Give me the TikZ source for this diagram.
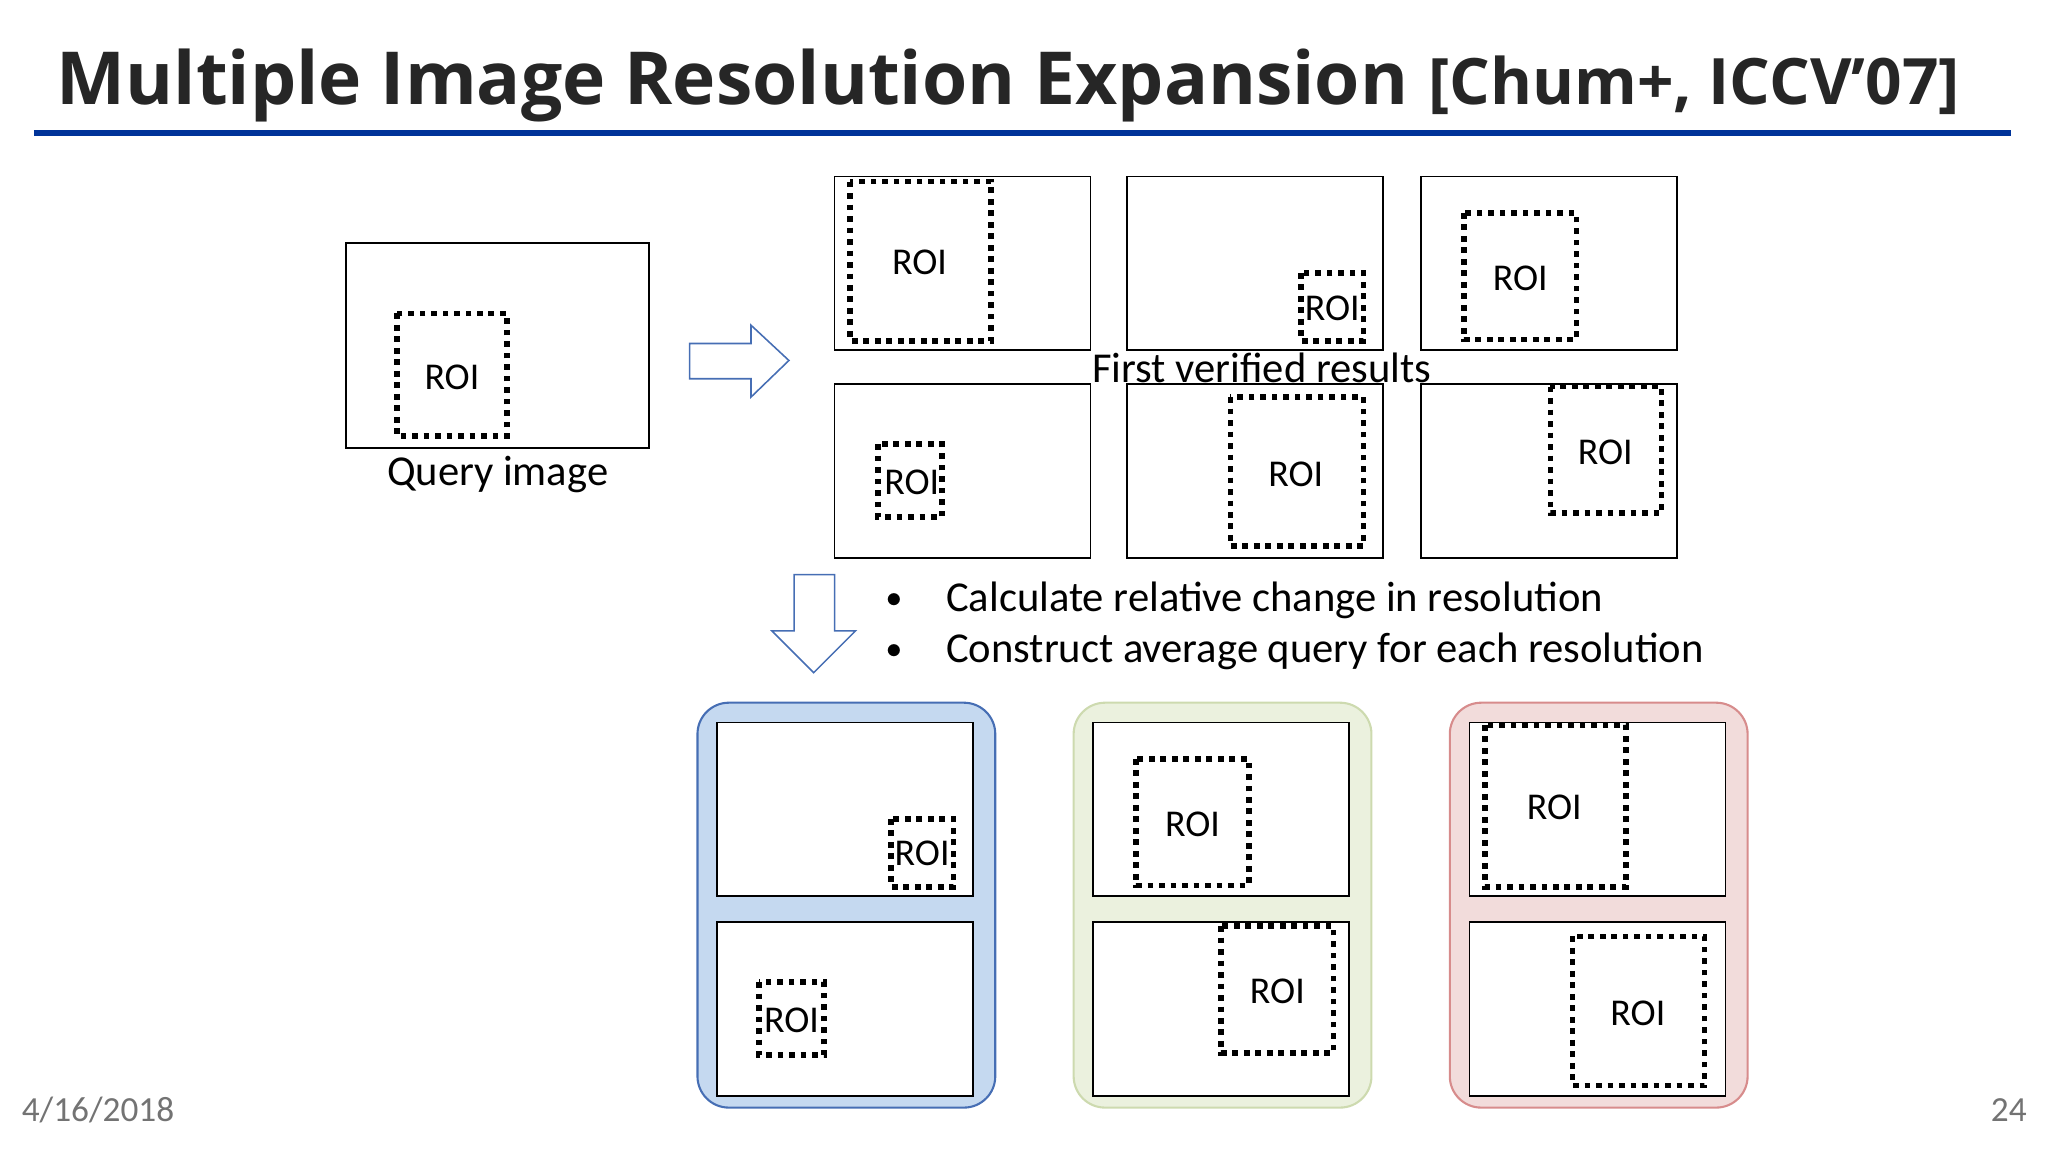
\documentclass[tikz,border=0pt]{standalone}
\usepackage{fontspec}
\setmainfont{Carlito}
\newfontfamily\titlefont{Open Sans}
\definecolor{rule}{RGB}{0,51,153}
\definecolor{arrowblue}{RGB}{70,110,180}
\tikzset{
  img/.style={draw=black, line width=0.6pt, fill=white},
  roi/.style={draw=black, line width=2.2pt, dash pattern=on 2.2pt off 2.2pt},
  roitext/.style={font=\fontsize{14.5}{16}\selectfont},
  body/.style={font=\fontsize{16.3}{19}\selectfont},
  group/.style={rounded corners=12pt, line width=0.8pt},
}
% image frame and its ROI box
\newcommand{\drawImg}[4]{\draw [img] #1 rectangle +(196,133); \draw [roi] #2 rectangle #3; \node [roitext] at #4 {ROI};}
\begin{document}
\begin{tikzpicture}[x=0.5pt,y=-0.5pt]
    \useasboundingbox (0,0) rectangle (1568,882);

    % title
    \node [anchor=base west, inner sep=0, font=\titlefont\bfseries\fontsize{28}{30}\selectfont, text=black!85] (title) at (43,80) {Multiple Image Resolution Expansion};
    \node [anchor=base west, inner sep=0, font=\titlefont\bfseries\fontsize{24.5}{26}\selectfont, text=black!85] (cite) at (1093,80) {[Chum+, ICCV’07]};
    \draw [rule, line width=2.5pt] (26,102) -- (1540,102);

    % query image
    \draw [img] (265,186) rectangle (497,343);
    \draw [roi] (304,240) rectangle (388,334);
    \node [roitext] (qroi) at (346,289) {ROI};
    \node [body] (query) at (381,363) {Query image};

    \draw [arrowblue, fill=white, line width=0.6pt] (528,263) -- (575,263) -- (575,249) -- (604,276) -- (575,304) -- (575,290) -- (528,290) -- cycle;

    % first verified results
    \drawImg{(639,135)}{(651,139)}{(759,261)}{(704,201)}
    \drawImg{(863,135)}{(996,209)}{(1044,261)}{(1020,236)}
    \drawImg{(1088,135)}{(1121,163)}{(1207,260)}{(1164,213)}
    \drawImg{(639,294)}{(672,340)}{(721,396)}{(698,369)}
    \drawImg{(863,294)}{(942,304)}{(1044,418)}{(992,363)}
    \drawImg{(1088,294)}{(1187,296)}{(1272,393)}{(1229,346)}
    \node [body] (verified) at (966,282) {First verified results};

    \draw [arrowblue, fill=white, line width=0.6pt] (608,440) -- (639,440) -- (639,483) -- (655,483) -- (623,515) -- (591,483) -- (608,483) -- cycle;

    % bullets
    \node [body, font=\fontsize{12}{14}\selectfont] (d1) at (685,460) {$\bullet$};
    \node [body, anchor=west, inner sep=0] (b1) at (724,460) {Calculate relative change in resolution};
    \node [body, font=\fontsize{12}{14}\selectfont] (d2) at (685,499) {$\bullet$};
    \node [body, anchor=west, inner sep=0] (b2) at (724,499) {Construct average query for each resolution};

    % resolution groups
    \draw [group, draw=arrowblue, fill={rgb,255:red,197;green,217;blue,240}] (534,538) rectangle (762,848);
    \draw [group, draw={rgb,255:red,205;green,218;blue,175}, fill={rgb,255:red,235;green,241;blue,222}] (822,538) rectangle (1050,848);
    \draw [group, draw={rgb,255:red,215;green,140;blue,140}, fill={rgb,255:red,242;green,220;blue,219}] (1110,538) rectangle (1338,848);

    \drawImg{(549,553)}{(682,627)}{(730,679)}{(706,653)}
    \drawImg{(549,706)}{(581,752)}{(631,808)}{(606,781)}
    \drawImg{(837,553)}{(870,581)}{(956,678)}{(913,631)}
    \drawImg{(837,706)}{(935,709)}{(1021,806)}{(978,759)}
    \drawImg{(1125,553)}{(1137,555)}{(1245,679)}{(1190,618)}
    \drawImg{(1125,706)}{(1204,717)}{(1305,831)}{(1254,776)}

    % footer
    \node [text=black!55, font=\fontsize{13.5}{15}\selectfont] (date) at (75,850) {4/16/2018};
    \node [text=black!55, font=\fontsize{13.5}{15}\selectfont] (page) at (1538,850) {24};
\end{tikzpicture}
\end{document}
